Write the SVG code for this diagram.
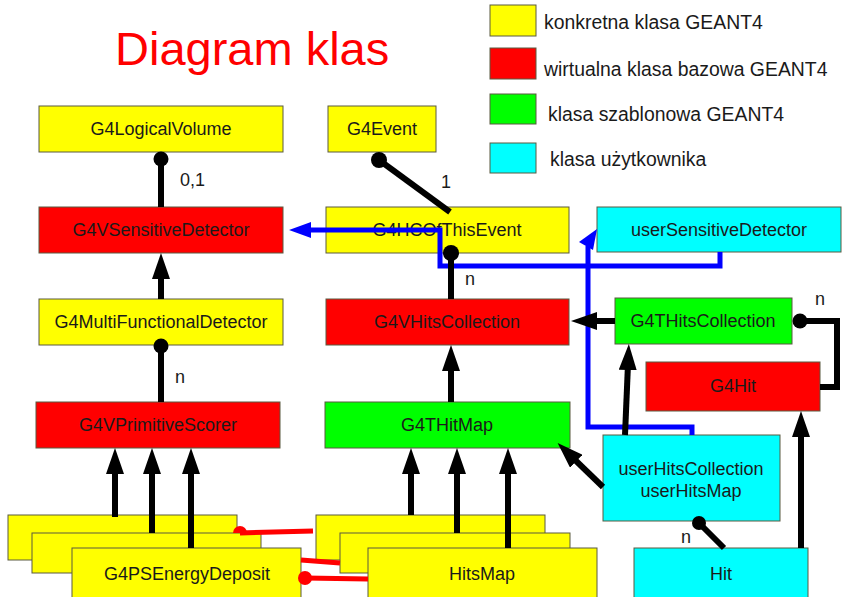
<svg xmlns="http://www.w3.org/2000/svg" width="842" height="597" viewBox="0 0 842 597">
<defs>
<style>
.box{stroke:#5a5a40;stroke-width:1}
.y{fill:#ffff00}.r{fill:#ff0000}.g{fill:#00ff00}.c{fill:#00ffff}
.t{font-family:"Liberation Sans",Arial,sans-serif;font-size:18px;fill:#1a1a1a;text-anchor:middle}
.lbl{font-family:"Liberation Sans",Arial,sans-serif;font-size:18px;fill:#1a1a1a}
.leg{font-family:"Liberation Sans",Arial,sans-serif;font-size:19.4px;fill:#1a1a1a}
.k{stroke:#000;stroke-width:6;fill:none}
.b{stroke:#0000ff;stroke-width:5;fill:none}
.rd{stroke:#ff0000;stroke-width:5;fill:none}
</style>
<marker id="ak" viewBox="0 0 26 18" refX="6" refY="9" markerWidth="26" markerHeight="18" markerUnits="userSpaceOnUse" orient="auto">
<path d="M0,0 L26,9 L0,18 z" fill="#000"/>
</marker>
<marker id="ab" viewBox="0 0 22 16" refX="6" refY="8" markerWidth="22" markerHeight="16" markerUnits="userSpaceOnUse" orient="auto">
<path d="M0,0 L22,8 L0,16 z" fill="#0000ff"/>
</marker>
</defs>
<rect width="842" height="597" fill="#ffffff"/>
<text x="115" y="65" font-family="Liberation Sans,Arial,sans-serif" font-size="47" fill="#ff0000">Diagram klas</text>
<g id="legend">
<rect class="box y" x="490" y="5" width="46" height="31"/>
<rect class="box r" x="490" y="48" width="46" height="31"/>
<rect class="box g" x="490" y="94" width="46" height="30"/>
<rect class="box c" x="490" y="143" width="46" height="30"/>
<text class="leg" x="544" y="29">konkretna klasa GEANT4</text>
<text class="leg" x="544" y="76">wirtualna klasa bazowa GEANT4</text>
<text class="leg" x="548" y="121">klasa szablonowa GEANT4</text>
<text class="leg" x="550" y="166">klasa użytkownika</text>
</g>
<g id="G4LogicalVolume"><rect class="box y" x="39" y="106" width="244" height="46"/><text class="t" x="161" y="135">G4LogicalVolume</text></g>
<g id="G4VSensitiveDetector"><rect class="box r" x="39" y="207" width="244" height="46"/><text class="t" x="161" y="236">G4VSensitiveDetector</text></g>
<g id="G4MultiFunctionalDetector"><rect class="box y" x="39" y="299" width="244" height="46"/><text class="t" x="161" y="328">G4MultiFunctionalDetector</text></g>
<g id="G4VPrimitiveScorer"><rect class="box r" x="36" y="402" width="244" height="46"/><text class="t" x="158" y="431">G4VPrimitiveScorer</text></g>
<g id="G4Event"><rect class="box y" x="328" y="106" width="108" height="46"/><text class="t" x="382" y="135">G4Event</text></g>
<g id="G4HCOfThisEvent"><rect class="box y" x="326" y="207" width="243" height="46"/><text class="t" x="447" y="236">G4HCOfThisEvent</text></g>
<g id="G4VHitsCollection"><rect class="box r" x="326" y="299" width="243" height="46"/><text class="t" x="447" y="328">G4VHitsCollection</text></g>
<g id="G4THitMap"><rect class="box g" x="325" y="402" width="245" height="46"/><text class="t" x="447" y="431">G4THitMap</text></g>
<g id="userSensitiveDetector"><rect class="box c" x="597" y="207" width="244" height="45"/><text class="t" x="719" y="236">userSensitiveDetector</text></g>
<g id="G4THitsCollection"><rect class="box g" x="615" y="298" width="177" height="46"/><text class="t" x="703" y="327">G4THitsCollection</text></g>
<g id="G4Hit"><rect class="box r" x="646" y="362" width="174" height="49"/><text class="t" x="733" y="392">G4Hit</text></g>
<g id="userHitsCollection"><rect class="box c" x="603" y="435" width="177" height="86"/><text class="t" x="691" y="475">userHitsCollection</text><text class="t" x="691" y="497">userHitsMap</text></g>
<g id="Hit"><rect class="box c" x="634" y="548" width="174" height="52"/><text class="t" x="721" y="580">Hit</text></g>
<g id="G4PSEnergyDeposit">
<rect class="box y" x="8" y="515" width="229" height="45"/>
<rect class="box y" x="32" y="533" width="229" height="40"/>
<rect class="box y" x="72" y="548" width="229" height="52"/>
<text class="t" x="187" y="580">G4PSEnergyDeposit</text>
</g>
<g id="HitsMap">
<rect class="box y" x="316" y="515" width="229" height="45"/>
<rect class="box y" x="340" y="533" width="230" height="40"/>
<rect class="box y" x="368" y="548" width="229" height="52"/>
<text class="t" x="482" y="580">HitsMap</text>
</g>
<g id="connectors">
<polyline class="b" points="720,252 720,266 440,266 440,230 305,230" marker-end="url(#ab)"/>
<polyline class="b" points="692,435 692,427 588,427 588,246"/>
<polygon points="597,229 579,242 593,250" fill="#0000ff"/>
<line class="k" x1="161" y1="159" x2="161" y2="207"/><circle cx="161" cy="159" r="7.5"/>
<line class="k" x1="161" y1="299" x2="161" y2="273" marker-end="url(#ak)"/>
<line class="k" x1="161" y1="346" x2="161" y2="402"/><circle cx="161" cy="346" r="7.5"/>
<line class="k" x1="115" y1="517" x2="115" y2="468" marker-end="url(#ak)"/>
<line class="k" x1="152" y1="533" x2="152" y2="468" marker-end="url(#ak)"/>
<line class="k" x1="191" y1="548" x2="191" y2="468" marker-end="url(#ak)"/>
<line class="k" x1="379" y1="160" x2="450" y2="212"/><circle cx="379" cy="160" r="8"/>
<line class="k" x1="451" y1="253" x2="451" y2="299"/><circle cx="451" cy="253" r="8"/>
<line class="k" x1="451" y1="402" x2="451" y2="365" marker-end="url(#ak)"/>
<line class="k" x1="411" y1="515" x2="411" y2="468" marker-end="url(#ak)"/>
<line class="k" x1="457" y1="533" x2="457" y2="468" marker-end="url(#ak)"/>
<line class="k" x1="508" y1="548" x2="508" y2="468" marker-end="url(#ak)"/>
<line class="k" x1="603" y1="487" x2="572" y2="457" marker-end="url(#ak)"/>
<line class="k" x1="625" y1="435" x2="628" y2="364" marker-end="url(#ak)"/>
<line class="k" x1="615" y1="321" x2="591" y2="321" marker-end="url(#ak)"/>
<polyline class="k" points="800,321 837,321 837,387 820,387"/><circle cx="800" cy="321" r="7.5"/>
<line class="k" x1="801" y1="548" x2="801" y2="431" marker-end="url(#ak)"/>
<line class="k" x1="699" y1="523" x2="724" y2="548"/><circle cx="699" cy="523" r="7"/>
<line class="rd" x1="240" y1="533" x2="313" y2="531"/>
<path d="M233,533 A7,7 0 0 1 247,533 Z" fill="#ff0000"/>
<line class="rd" x1="301" y1="560" x2="340" y2="563"/>
<line class="rd" x1="305" y1="578" x2="368" y2="579"/><circle cx="305" cy="578" r="7" fill="#ff0000"/>
<text class="lbl" x="180" y="186">0,1</text>
<text class="lbl" x="175" y="383">n</text>
<text class="lbl" x="441" y="188">1</text>
<text class="lbl" x="465" y="285">n</text>
<text class="lbl" x="815" y="305">n</text>
<text class="lbl" x="681" y="543">n</text>
</g>
</svg>
